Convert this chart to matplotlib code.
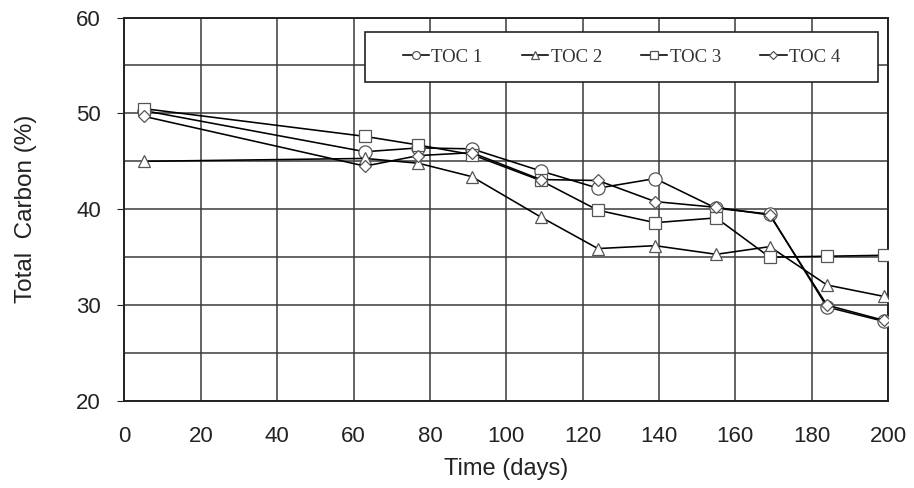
import matplotlib
matplotlib.use("Agg")
import matplotlib.pyplot as plt
from matplotlib.patches import Rectangle

days = [5, 63, 77, 91, 109, 124, 139, 155, 169, 184, 199]
toc1 = [50.3, 46.0, 46.4, 46.3, 44.0, 42.2, 43.2, 40.1, 39.5, 29.8, 28.3]
toc2 = [45.0, 45.3, 44.8, 43.4, 39.2, 35.9, 36.2, 35.3, 36.1, 32.1, 30.9]
toc3 = [50.5, 47.6, 46.7, 45.7, 43.0, 39.9, 38.6, 39.1, 35.0, 35.1, 35.2]
toc4 = [49.7, 44.5, 45.6, 45.9, 43.1, 43.0, 40.8, 40.2, 39.4, 30.0, 28.4]
labels = ["TOC 1", "TOC 2", "TOC 3", "TOC 4"]
x_ticks = [0, 20, 40, 60, 80, 100, 120, 140, 160, 180, 200]
y_ticks = [20, 30, 40, 50, 60]

plt.rcParams['font.family'] = ['Liberation Sans', 'DejaVu Sans']

fig = plt.figure(figsize=(9.14, 4.88), dpi=100)
ax = fig.add_axes([0.1362, 0.1783, 0.8354, 0.7858])

series = [toc1, toc2, toc3, toc4]
markers = ['o', '^', 's', 'D']
msizes = [9.5, 9, 9, 6.5]
for s, m, ms, lab in zip(series, markers, msizes, labels):
    ax.plot(days, s, color='black', lw=1.15, marker=m, ms=ms, mfc='white',
            mec='#555555', mew=0.9, label=lab, zorder=3)

ax.set_xlim(0, 200)
ax.set_ylim(20, 60)
ax.set_xticks(x_ticks)
ax.set_yticks(y_ticks)
ax.set_yticks([25, 35, 45, 55], minor=True)
ax.grid(True, which='both', color='#3a3a3a', lw=1.1, zorder=1)
ax.set_axisbelow(True)
for sp in ax.spines.values():
    sp.set_color('#222222')
    sp.set_linewidth(1.4)

ax.tick_params(axis='x', length=0, pad=18, labelsize=16, colors='#222222')
ax.tick_params(axis='y', which='major', length=5, pad=12, labelsize=16, colors='#222222')
ax.tick_params(axis='y', which='minor', length=0)

ax.set_xlabel("Time (days)", fontsize=17, labelpad=8, color='#222222')
ax.set_ylabel("Total  Carbon (%)", fontsize=17.5, labelpad=28, color='#222222')

# legend frame
frame = Rectangle((0.315, 0.832), 0.672, 0.13, transform=ax.transAxes,
                  facecolor='white', edgecolor='#222222', lw=1.2, zorder=4)
ax.add_patch(frame)

leg = ax.legend(loc='center', bbox_to_anchor=(0.651, 0.897),
                ncol=4, frameon=False, borderpad=0.2,
                handlelength=1.4, handletextpad=0.12, columnspacing=2.1,
                markerscale=0.6, labelcolor='#333333',
                prop={'family': 'Liberation Serif', 'size': 13.5})
leg.set_zorder(5)

fig.savefig("out.png", dpi=100)
